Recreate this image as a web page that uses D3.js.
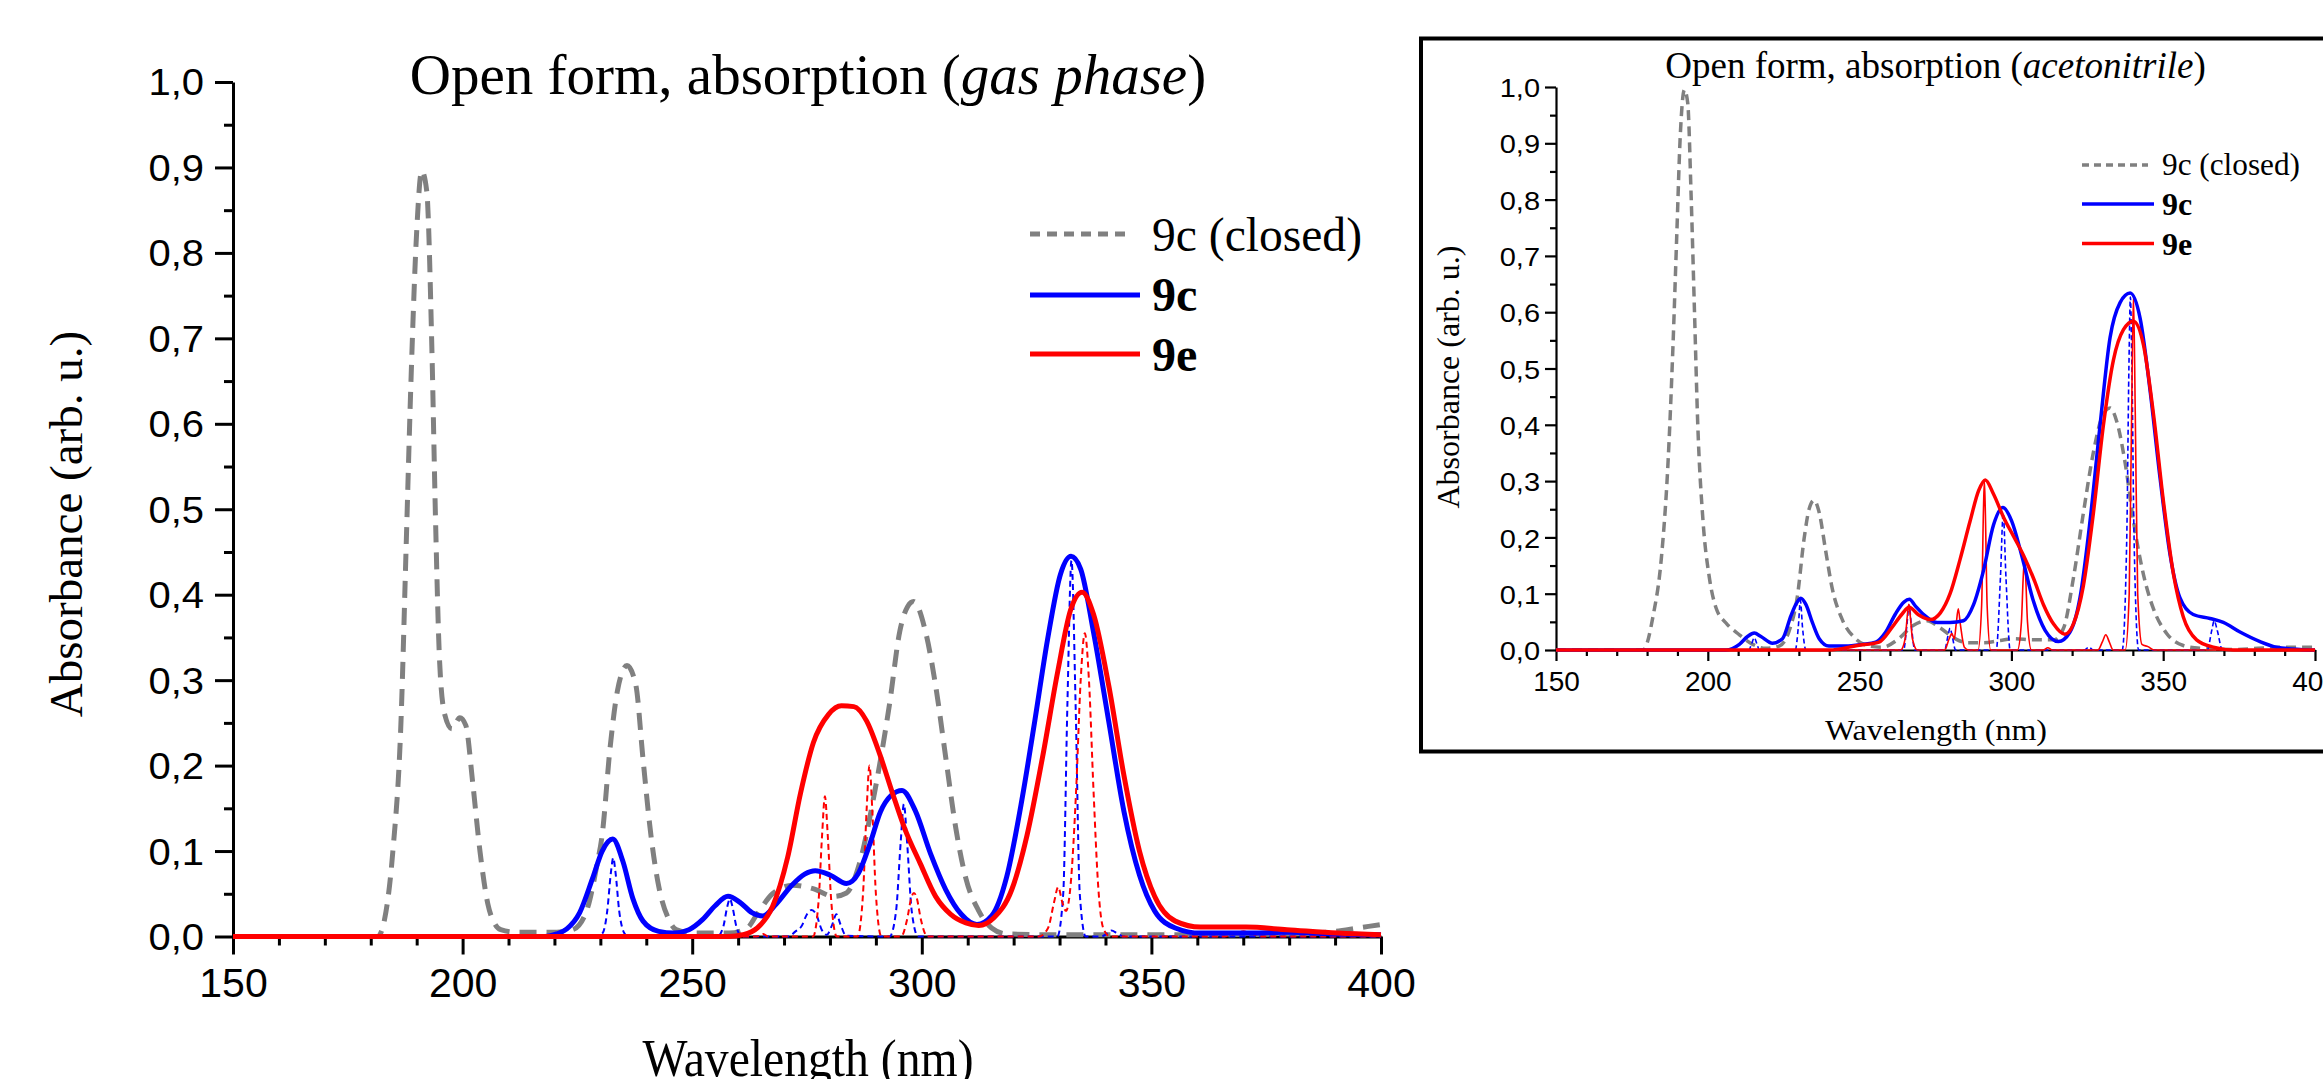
<!DOCTYPE html>
<html>
<head>
<meta charset="utf-8">
<script src="https://cdn.jsdelivr.net/npm/d3@7"></script>
<style>
  body { margin: 0; background: #fff; }
  svg { display: block; }
</style>
</head>
<body>
<script>
// wavelength (nm) / absorbance pairs
var gasClosed = [[150,0],[181.5,0],[183,0.02],[184.8,0.099],[186.6,0.254],[187.7,0.455],[188.8,0.657],[190,0.825],[191.1,0.896],[192.2,0.872],[193.3,0.69],[194.1,0.489],[195,0.321],[196.1,0.26],[197.7,0.243],[199.4,0.256],[200.7,0.247],[202.2,0.18],[203.8,0.099],[205.5,0.038],[207,0.015],[208.3,0.008],[211.6,0.005],[220.5,0.005],[224,0.008],[227,0.03],[229.3,0.085],[230.4,0.119],[232.1,0.22],[233.7,0.287],[235.8,0.317],[237.7,0.295],[239.3,0.207],[241,0.119],[242.7,0.059],[244.9,0.02],[246.5,0.008],[250,0.004],[258,0.004],[262,0.01],[264,0.025],[267.5,0.05],[271.9,0.06],[276.3,0.056],[280.8,0.047],[283.6,0.051],[286.4,0.085],[289.7,0.168],[293,0.273],[295.2,0.357],[296.9,0.386],[298.2,0.392],[300.8,0.357],[303,0.294],[305.2,0.21],[307.4,0.127],[309.6,0.068],[312.4,0.03],[315.2,0.01],[318.5,0.003],[330,0.002],[360,0.002],[380,0.003],[390,0.006],[395,0.01],[400,0.014]];

var gas9c = [[150,0],[218,0],[220.5,0.003],[222.7,0.009],[225.5,0.028],[228.3,0.068],[230.4,0.1],[232.7,0.114],[234.9,0.088],[237.1,0.044],[239.3,0.018],[242.7,0.006],[246,0.004],[249.3,0.008],[252.3,0.02],[255,0.036],[257.8,0.047],[260.4,0.04],[263,0.028],[265.4,0.024],[268.3,0.038],[271.7,0.06],[274.5,0.073],[276.8,0.077],[280,0.072],[283.6,0.062],[286.2,0.074],[288.8,0.11],[291,0.146],[293.3,0.165],[295.7,0.171],[298.6,0.147],[301.9,0.097],[305.2,0.055],[308.6,0.026],[312,0.014],[315.2,0.024],[318.5,0.07],[321.8,0.16],[324.6,0.252],[327.4,0.348],[330.2,0.424],[332.5,0.445],[334.6,0.43],[337.4,0.356],[340.7,0.252],[344,0.147],[347.4,0.072],[350.7,0.03],[355.2,0.01],[360.7,0.004],[370,0.004],[380,0.005],[390,0.003],[400,0.002]];

var gas9e = [[150,0],[258,0],[261,0.002],[264.2,0.01],[267.5,0.035],[270.8,0.093],[273.6,0.168],[276.4,0.227],[279.7,0.26],[282.5,0.27],[285.2,0.269],[288,0.252],[290.8,0.214],[293.6,0.168],[296.3,0.126],[299.7,0.085],[303,0.047],[306.3,0.026],[309.6,0.016],[312.4,0.013],[315.7,0.022],[319.6,0.055],[322.9,0.118],[326.3,0.21],[329.6,0.31],[332.4,0.382],[334.9,0.403],[337.4,0.377],[340.7,0.294],[344,0.189],[347.4,0.1],[350.7,0.047],[355.2,0.018],[360.7,0.011],[370.6,0.011],[379.5,0.008],[390.6,0.004],[400,0.002]];

var gasSticks9c = [[150,0],[229,0],[230.5,0.004],[231.5,0.03],[232.3,0.075],[232.8,0.092],[233.3,0.075],[234.1,0.03],[235.2,0.004],[236,0],[255.5,0],[256.8,0.012],[257.6,0.034],[258.2,0.044],[258.8,0.034],[259.6,0.012],[260.8,0],[271,0],[272.5,0.006],[273.8,0.012],[275,0.026],[276,0.031],[277,0.026],[278.2,0.008],[279.3,0.002],[280.5,0.014],[281.4,0.026],[282.3,0.014],[283.5,0.001],[293,0],[294.4,0.03],[295.4,0.11],[296.1,0.155],[296.8,0.11],[297.8,0.03],[299.2,0],[329.5,0],[330.8,0.05],[331.7,0.27],[332.6,0.44],[333.5,0.27],[334.4,0.05],[335.7,0],[339,0],[340.5,0.004],[341.3,0.007],[342.5,0.004],[344,0],[400,0]];

var gasSticks9e = [[150,0],[264,0],[265.5,0.003],[266.5,0],[276.3,0],[277.5,0.04],[278.3,0.12],[278.9,0.164],[279.5,0.12],[280.3,0.04],[281.5,0],[286,0],[287.2,0.05],[288,0.15],[288.6,0.2],[289.2,0.15],[290,0.05],[291.2,0],[295.5,0],[296.8,0.02],[297.7,0.045],[298.3,0.051],[298.9,0.045],[299.8,0.02],[301.2,0],[325.5,0],[327.5,0.01],[328.8,0.04],[329.7,0.058],[330.6,0.04],[331.4,0.03],[332.4,0.06],[333.6,0.17],[334.6,0.3],[335.5,0.355],[336.4,0.3],[337.4,0.17],[338.4,0.06],[339.5,0.01],[341,0],[366,0],[368.5,0.004],[370,0.006],[371.5,0.004],[374,0],[400,0]];

var acnClosed = [[150,0],[178.7,0],[182,0.061],[184.7,0.163],[186.9,0.333],[188.5,0.536],[189.8,0.74],[190.9,0.91],[192.3,0.995],[193.4,0.971],[194.5,0.808],[195.6,0.604],[196.7,0.4],[198.4,0.231],[200.5,0.129],[202.7,0.075],[206,0.048],[210.4,0.027],[214.8,0.01],[219.1,0.003],[223.5,0.007],[226.8,0.034],[229.5,0.095],[231.7,0.197],[233.4,0.251],[235,0.266],[236.7,0.244],[238.8,0.177],[241,0.109],[244.3,0.054],[248.7,0.02],[253.1,0.007],[257.4,0.005],[262.9,0.02],[267.5,0.043],[272.2,0.052],[276.6,0.039],[280.9,0.022],[285.3,0.013],[290.8,0.013],[296.3,0.017],[300.7,0.02],[307.3,0.018],[313.9,0.018],[317.2,0.039],[320.4,0.127],[323.7,0.243],[327,0.351],[329.8,0.413],[332.5,0.43],[334.7,0.406],[337.5,0.331],[340.2,0.229],[343.5,0.134],[346.8,0.073],[351.2,0.029],[356.6,0.008],[362.1,0.003],[373.1,0.001],[389.6,0.005],[400,0.005]];

var acn9c = [[150,0],[206,0],[210.4,0.01],[213.1,0.024],[215.3,0.03],[217.5,0.024],[221.3,0.012],[224.6,0.02],[227.4,0.061],[229,0.081],[230.6,0.092],[232.3,0.081],[234.5,0.048],[236.7,0.02],[239.9,0.007],[245.4,0.007],[250.9,0.01],[255.3,0.014],[258.5,0.031],[261.8,0.064],[264.6,0.085],[266.4,0.09],[268.4,0.078],[271.1,0.063],[275.5,0.049],[279.8,0.049],[284.2,0.052],[287.5,0.08],[290.8,0.141],[294.1,0.222],[297.2,0.253],[300.1,0.229],[303.4,0.168],[307.3,0.086],[311.1,0.035],[315.5,0.015],[319.3,0.032],[322.6,0.093],[325.9,0.229],[329.2,0.399],[332.5,0.555],[335.8,0.617],[339.1,0.634],[342.4,0.589],[345.7,0.46],[349,0.304],[352.3,0.168],[355.5,0.093],[359.9,0.063],[365.4,0.056],[369.8,0.049],[375.3,0.032],[381.9,0.015],[387.4,0.005],[395.1,0.001],[400,0]];

var acn9e = [[150,0],[240,0],[249.3,0.008],[256.4,0.014],[260.8,0.041],[264,0.064],[266.3,0.076],[269.5,0.062],[273.3,0.054],[276.6,0.066],[279.8,0.1],[283.1,0.161],[286.4,0.229],[289.2,0.283],[291.4,0.302],[294.1,0.277],[297.4,0.236],[300.7,0.202],[304,0.168],[307.3,0.127],[310.6,0.08],[313.9,0.046],[317.6,0.028],[320.4,0.046],[323.7,0.114],[327,0.243],[330.3,0.399],[333.6,0.515],[336.9,0.569],[340.2,0.584],[343.5,0.542],[346.8,0.419],[350.1,0.263],[353.4,0.134],[356.6,0.059],[361,0.018],[366.5,0.005],[373.1,0],[400,0]];

var acnSticks9c = [[150,0],[213.5,0],[214.5,0.012],[215.3,0.022],[216.1,0.012],[217,0],[228.8,0],[229.8,0.04],[230.5,0.088],[231.2,0.04],[232.3,0],[264.5,0],[265.5,0.04],[266.3,0.08],[267.1,0.04],[268.2,0],[278,0],[279.1,0.025],[279.8,0.039],[280.5,0.025],[281.6,0],[295,0],[296.4,0.13],[297.3,0.243],[298.2,0.13],[299.6,0],[324,0],[325.5,0.005],[327,0],[336.5,0],[338,0.2],[338.7,0.5],[339.2,0.627],[339.7,0.5],[340.4,0.2],[341.9,0],[364.5,0],[366,0.035],[366.8,0.052],[367.8,0.035],[369.5,0],[400,0]];

var acnSticks9e = [[150,0],[263.5,0],[265,0.02],[265.7,0.06],[266.2,0.081],[266.7,0.06],[267.4,0.02],[269,0],[278,0],[279.5,0.02],[280.4,0.029],[281.2,0.02],[281.8,0.045],[282.5,0.073],[283.2,0.045],[284.5,0.005],[286,0],[289,0],[290.2,0.08],[290.8,0.25],[291.1,0.3],[291.4,0.25],[292,0.08],[293.2,0],[302,0],[303.3,0.05],[303.9,0.13],[304.3,0.161],[304.7,0.13],[305.3,0.05],[306.6,0],[310.5,0],[312,0.004],[313.5,0],[328.5,0],[330,0.015],[331.1,0.027],[332.2,0.015],[333.5,0],[337.5,0],[338.8,0.1],[339.6,0.42],[340.2,0.63],[340.8,0.42],[341.6,0.1],[343,0.01],[345,0.006],[347,0],[400,0]];

var xTicks = [150, 200, 250, 300, 350, 400],
    yTicks = [0, 0.1, 0.2, 0.3, 0.4, 0.5, 0.6, 0.7, 0.8, 0.9, 1.0],
    legendNames = ["9c (closed)", "9c", "9e"];

var width = 2323,
    height = 1079,
    serif = "'Liberation Serif', 'Times New Roman', serif",
    sans = "'Liberation Sans', Arial, sans-serif",
    fmt = d3.formatLocale({decimal: ",", thousands: " ", grouping: [3], currency: ["", ""]}).format(".1f");

var svg = d3.select("body").append("svg")
    .attr("width", width)
    .attr("height", height);

function label(g, txt, x, y, size, len, opts){
  opts = opts || {};
  var t = g.append("text")
      .attr("x", x).attr("y", y)
      .attr("font-family", opts.family || serif)
      .attr("font-size", size)
      .attr("font-weight", opts.bold ? "bold" : null)
      .attr("text-anchor", opts.anchor || "start")
      .attr("fill", "#000");
  if (opts.transform) t.attr("transform", opts.transform);
  if (Array.isArray(txt)) {
    txt.forEach(function(p){
      t.append("tspan").attr("font-style", p.italic ? "italic" : null).text(p.t);
    });
  } else t.text(txt);
  if (len) t.attr("textLength", len).attr("lengthAdjust", "spacingAndGlyphs");
  return t;
}

function drawPanel(cfg){
  var g = svg.append("g");
  var x = d3.scaleLinear().domain([150, 400]).range(cfg.xr),
      y = d3.scaleLinear().domain([0, 1]).range(cfg.yr);

  // minor ticks
  g.append("g")
      .attr("transform", "translate(0," + cfg.yr[0] + ")")
      .call(d3.axisBottom(x).tickValues(d3.range(160, 400, 10).filter(function(d){ return d % 50; }))
            .tickSize(cfg.minor).tickFormat(""))
      .call(function(a){ a.select(".domain").remove(); });
  g.append("g")
      .attr("transform", "translate(" + cfg.xr[0] + ",0)")
      .call(d3.axisLeft(y).tickValues(d3.range(0.05, 1, 0.1)).tickSize(cfg.minor).tickFormat(""))
      .call(function(a){ a.select(".domain").remove(); });

  var xa = g.append("g")
      .attr("transform", "translate(0," + cfg.yr[0] + ")")
      .call(d3.axisBottom(x).tickValues(xTicks).tickSize(cfg.major).tickSizeOuter(0).tickPadding(0));
  xa.selectAll("text")
      .attr("font-family", sans).attr("font-size", cfg.xtSize)
      .attr("y", cfg.xtBase).attr("dy", null);

  var ya = g.append("g")
      .attr("transform", "translate(" + cfg.xr[0] + ",0)")
      .call(d3.axisLeft(y).tickValues(yTicks).tickFormat(fmt).tickSize(cfg.major).tickSizeOuter(0));
  ya.selectAll("text")
      .attr("font-family", sans).attr("font-size", cfg.ytSize)
      .attr("x", cfg.ytX).attr("dy", "0.36em")
      .attr("transform", "scale(1," + cfg.ytSquash + ")");

  g.selectAll(".domain, .tick line").attr("stroke", "#000").attr("stroke-width", cfg.axisW);

  var line = d3.line()
      .x(function(d){ return x(d[0]); })
      .y(function(d){ return y(d[1]); })
      .curve(d3.curveMonotoneX);

  var series = [
    {data: cfg.closed, color: "#808080", w: cfg.thickW, dash: cfg.grayDash},
    {data: cfg.sticks9c, color: "#0000ff", w: cfg.thinW, dash: cfg.thinDash},
    {data: cfg.sticks9e, color: "#ff0000", w: cfg.thinW, dash: cfg.redThinDash},
    {data: cfg.s9c, color: "#0000ff", w: cfg.thickW},
    {data: cfg.s9e, color: "#ff0000", w: cfg.thickW}
  ];
  g.selectAll(".spec")
    .data(series).enter()
    .append("path")
      .attr("class", "spec")
      .attr("d", function(d){ return line(d.data); })
      .attr("fill", "none")
      .attr("stroke", function(d){ return d.color; })
      .attr("stroke-width", function(d){ return d.w; })
      .attr("stroke-dasharray", function(d){ return d.dash || null; })
      .attr("stroke-linejoin", "round");

  // legend
  var lg = cfg.legend;
  var keys = [{color: "#808080", dash: lg.dash}, {color: "#0000ff"}, {color: "#ff0000"}];
  keys.forEach(function(k, i){
    g.append("line")
        .attr("x1", lg.x1).attr("x2", i ? lg.x2b : lg.x2)
        .attr("y1", lg.ys[i]).attr("y2", lg.ys[i])
        .attr("stroke", k.color).attr("stroke-width", cfg.thickW)
        .attr("stroke-dasharray", k.dash || null);
    label(g, legendNames[i], lg.tx, lg.bases[i], i ? lg.boldSize : lg.size, i ? null : lg.len, {bold: i > 0});
  });

  // titles
  label(g, [{t: "Open form, absorption ("}, {t: cfg.medium, italic: true}, {t: ")"}],
        cfg.title.x, cfg.title.y, cfg.title.size, null, {anchor: "middle"});
  label(g, "Wavelength (nm)", cfg.xl.x, cfg.xl.y, cfg.xl.size, cfg.xl.len, {anchor: "middle"});
  label(g, "Absorbance (arb. u.)", 0, 0, cfg.yl.size, null,
        {anchor: "middle", transform: "translate(" + cfg.yl.x + "," + cfg.yl.y + ") rotate(-90)"});
  return g;
}

// inset frame
svg.append("rect")
    .attr("x", 1421).attr("y", 38.5)
    .attr("width", 1000).attr("height", 713)
    .attr("fill", "#fff").attr("stroke", "#000").attr("stroke-width", 4);

drawPanel({
  xr: [233, 1381], yr: [936.5, 82],
  major: 18, minor: 9, axisW: 3,
  xtSize: 41, xtBase: 60, ytSize: 40, ytX: -29, ytSquash: 0.9,
  thickW: 5, thinW: 2, grayDash: "17,10", thinDash: "6,4", redThinDash: "6,4",
  closed: gasClosed, s9c: gas9c, s9e: gas9e, sticks9c: gasSticks9c, sticks9e: gasSticks9e,
  medium: "gas phase",
  legend: {x1: 1030, x2: 1132, x2b: 1140, ys: [234, 295, 354], tx: 1152, bases: [251, 311, 371],
           size: 48, len: 210, boldSize: 48, dash: "10,7"},
  title: {x: 808, y: 94, size: 57},
  xl: {x: 808, y: 1076, size: 53, len: 331},
  yl: {x: 82, y: 524, size: 47}
});

drawPanel({
  xr: [1556, 2315], yr: [650, 87],
  major: 11, minor: 6, axisW: 2.2,
  xtSize: 28, xtBase: 41, ytSize: 29, ytX: -16, ytSquash: 0.92,
  thickW: 3.5, thinW: 1.6, grayDash: "10,6", thinDash: "5,3", redThinDash: null,
  closed: acnClosed, s9c: acn9c, s9e: acn9e, sticks9c: acnSticks9c, sticks9e: acnSticks9e,
  medium: "acetonitrile",
  legend: {x1: 2082, x2: 2148, x2b: 2154, ys: [165, 204, 243.5], tx: 2162, bases: [175, 215, 255],
           size: 31, len: 138, boldSize: 32, dash: "7,5"},
  title: {x: 1935.5, y: 78, size: 37},
  xl: {x: 1936, y: 740, size: 29, len: 222},
  yl: {x: 1459, y: 377, size: 32}
});
</script>
</body>
</html>
